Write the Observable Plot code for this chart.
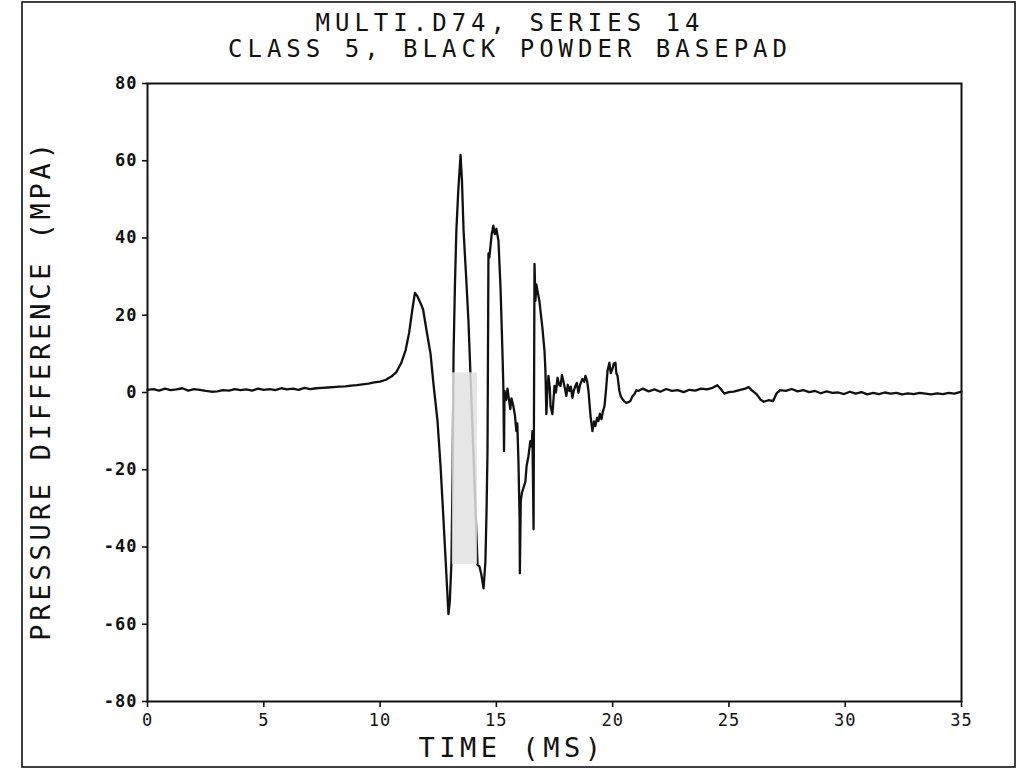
<!DOCTYPE html>
<html>
<head>
<meta charset="utf-8">
<script src="https://cdn.jsdelivr.net/npm/d3@7"></script>
<script src="https://cdn.jsdelivr.net/npm/@observablehq/plot@0.6"></script>
<style>
  html, body { margin: 0; padding: 0; background: #fff; }
  #chart { position: relative; width: 1020px; height: 771px; }
  svg { display: block; }
</style>
</head>
<body>
<div id="chart"></div>
<script>
// ---- Data ----
const titleLines = ["MULTI.D74, SERIES 14", "CLASS 5, BLACK POWDER BASEPAD"];
const xLabel = "TIME (MS)";
const yLabel = "PRESSURE DIFFERENCE (MPA)";
const xTicks = [0, 5, 10, 15, 20, 25, 30, 35];
const yTicks = [-80, -60, -40, -20, 0, 20, 40, 60, 80];

// baseline before the pulse
const tPre = [0,0.25,0.5,0.75,1,1.25,1.5,1.75,2,2.25,2.5,2.75,3,3.25,3.5,3.75,4,4.25,4.5,4.75,5,5.25,5.5,5.75,6,6.25,6.5,6.75,7,7.25,7.5,7.75,8,8.25,8.5,8.75,9,9.25,9.5,9.75];
const pPre = [0.7,0.9,0.5,1.0,0.6,0.8,1.1,0.5,0.9,0.7,0.4,0.2,0.3,0.6,0.5,0.9,0.6,0.8,0.5,1.0,0.7,0.9,0.6,1.1,0.8,1.0,0.7,1.2,0.9,1.1,1.2,1.3,1.4,1.5,1.6,1.8,1.9,2.1,2.3,2.6];

// main oscillating pulse
const tPulse = [10.0,10.25,10.5,10.7,10.9,11.1,11.25,11.4,11.5,11.6,11.75,11.85,12.0,12.17,12.3,12.47,12.6,12.73,12.85,12.94,13.0,13.07,13.12,13.16,13.22,13.28,13.36,13.46,13.52,13.59,13.7,13.8,13.93,14.06,14.19,14.27,14.35,14.45,14.53,14.58,14.62,14.66,14.7,14.75,14.8,14.87,14.93,15.0,15.09,15.18,15.26,15.3,15.33,15.35,15.42,15.48,15.52,15.6,15.65,15.73,15.8,15.86,15.9,15.95,16.0,16.01,16.05,16.1,16.16,16.25,16.3,16.38,16.46,16.52,16.55,16.6,16.64,16.68,16.72,16.77,16.85,16.9,16.98,17.07,17.11,17.15,17.2,17.24,17.3,17.33,17.41,17.5,17.56,17.63,17.7,17.76,17.82,17.88,17.95,18.01,18.07,18.14,18.2,18.27,18.33,18.4,18.46,18.53,18.6,18.7,18.78,18.83,18.9,18.96,19.05,19.13,19.2,19.26,19.33,19.39,19.45,19.52,19.58,19.65,19.72,19.78,19.86,19.92,19.99,20.05,20.12,20.16,20.21,20.29,20.35,20.42,20.5,20.59,20.68,20.76,20.85,20.94,21.02,21.1];
const pPulse = [2.8,3.3,4.2,5.3,7.5,11.0,15.5,22.0,25.8,25.0,23.0,21.5,16.0,10,2,-7.4,-19,-33.3,-47,-57.4,-54,-43.7,-20,10,28,41.9,52,61.5,55,41.9,30,18.5,-2.2,-23,-44.6,-45,-47,-50.7,-43.7,-30,-15,36,35,38,41,43.2,41,42.4,39.3,27,10.8,1.7,-15.2,0.4,-2,1,-0.9,-4.3,-1.5,-3.5,-6,-10,-8,-17.8,-33,-46.8,-28,-26,-24.8,-23,-19,-16.5,-12.6,-14,-10,-35.4,33.3,23.7,28,26.3,23.7,21,16.7,10.8,5.6,-5.6,1,4.3,1,-3.5,-5.6,1.7,0,3.8,2,1.7,4.5,3,1,-0.9,2,0.4,1.5,-1.4,0.5,1.7,2.5,-0.1,2,3.5,2.8,4.3,3,0.4,-6.1,-10,-7.5,-8.7,-6.5,-7.4,-5.5,-6.9,-5,-3.5,1,5.6,7.7,5,6.1,7.5,7.7,5,4.3,0.4,-1,-1.7,-2.3,-2.7,-2.5,-2.2,-1,-0.4,0.6,0.4];

// tail after the pulse
const tTail = [21.3,21.55,21.8,22.05,22.3,22.55,22.8,23.05,23.3,23.55,23.8,24.05,24.3,24.5,24.65,24.8,25.0,25.2,25.45,25.7,25.85,26.0,26.2,26.35,26.5,26.7,26.9,27.05,27.2,27.45,27.7,27.95,28.2,28.45,28.7,28.95,29.2,29.45,29.7,29.95,30.2,30.45,30.7,30.95,31.2,31.45,31.7,31.95,32.2,32.45,32.7,32.95,33.2,33.45,33.7,33.95,34.2,34.45,34.7,35];
const pTail = [1.0,0.3,0.8,0.2,0.9,0.4,0.6,0.1,0.7,0.5,1.0,0.8,1.2,1.9,0.9,-0.3,0.1,0.2,0.6,1.0,1.4,0.5,-0.5,-1.8,-2.4,-2.0,-2.2,-0.2,0.6,0.4,0.9,0.3,0.6,0.1,0.4,-0.2,0.3,-0.1,0.0,-0.4,0.2,-0.3,0.1,-0.5,-0.1,-0.4,0.0,-0.3,-0.1,-0.5,-0.2,-0.4,-0.1,-0.3,-0.5,-0.2,-0.4,-0.1,-0.3,0.2];

// light grey scanning patch over the trace
const patchT = [13.11, 14.19];
const patchP = [5.1, -44.5];

// ---- Build table ----
const times = [...tPre, ...tPulse, ...tTail];
const pressures = [...pPre, ...pPulse, ...pTail];
const trace = times.map((t, i) => ({t, p: pressures[i]}));
const patch = [{x1: patchT[0], x2: patchT[1], y1: patchP[0], y2: patchP[1]}];

const FONT = "'DejaVu Sans Mono', 'Liberation Mono', monospace";

const chart = Plot.plot({
  width: 1020,
  height: 771,
  marginLeft: 147,
  marginRight: 59,
  marginTop: 83,
  marginBottom: 70,
  style: {fontFamily: FONT, background: "white", color: "#111"},
  x: {domain: [0, 35], ticks: xTicks, label: null},
  y: {domain: [-80, 80], ticks: yTicks, label: null},
  marks: [
    Plot.line(trace, {x: "t", y: "p", stroke: "#111", strokeWidth: 2.3, strokeLinejoin: "round"}),
    Plot.rect(patch, {x1: "x1", x2: "x2", y1: "y1", y2: "y2", fill: "#e2e2e2", fillOpacity: 0.85}),
    Plot.frame({stroke: "#111", strokeWidth: 2}),
    Plot.axisX({ticks: xTicks, tickSize: 6, tickPadding: 6, tickFormat: d => String(d),
      fontSize: 17, stroke: "#111", strokeWidth: 1.6, label: null}),
    Plot.axisY({ticks: yTicks, tickSize: 5, tickPadding: 5, tickFormat: d => String(d),
      fontSize: 17, fontWeight: "bold", stroke: "#111", strokeWidth: 1.6, label: null})
  ]
});

const svg = d3.select(chart);
svg.selectAll("g[aria-label='x-axis tick label'] text, g[aria-label='y-axis tick label'] text")
  .attr("letter-spacing", "1px");

// Titles
svg.append("g").selectAll("text").data(titleLines).join("text")
  .attr("x", 510).attr("y", (d, i) => 31 + i * 26)
  .attr("text-anchor", "middle")
  .attr("font-family", FONT).attr("font-size", 24).attr("letter-spacing", "5px")
  .attr("fill", "#111").text(d => d);

// X label
svg.append("text")
  .attr("x", 512).attr("y", 757)
  .attr("text-anchor", "middle")
  .attr("font-family", FONT).attr("font-size", 27).attr("letter-spacing", "4.5px")
  .attr("fill", "#111").text(xLabel);

// Y label
svg.append("text")
  .attr("transform", "translate(50,390) rotate(-90)")
  .attr("text-anchor", "middle")
  .attr("font-family", FONT).attr("font-size", 27).attr("letter-spacing", "3.8px")
  .attr("fill", "#111").text(yLabel);

// Outer page border
svg.append("rect")
  .attr("x", 22).attr("y", 2).attr("width", 993).attr("height", 765)
  .attr("fill", "none").attr("stroke", "#111").attr("stroke-width", 1.6);

document.getElementById("chart").appendChild(chart);
</script>
</body>
</html>
